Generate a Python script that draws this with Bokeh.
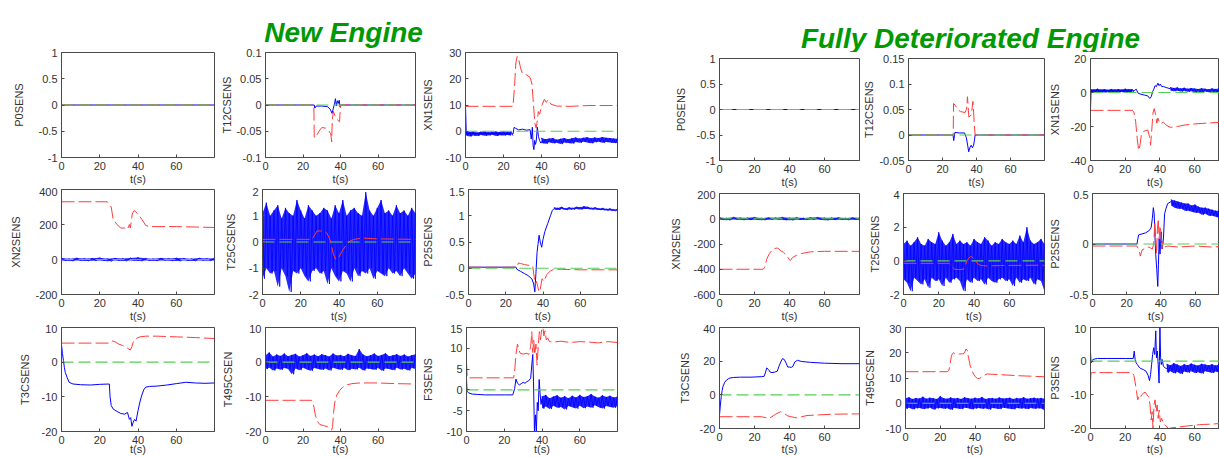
from bokeh.plotting import figure
from bokeh.models import Range1d, LinearAxis, FixedTicker, CustomJSTickFormatter, Label
from bokeh.layouts import row, column
from bokeh.embed import file_html
from bokeh.resources import INLINE

FONT = "Liberation Sans"
BLUE = "#0000ff"
RED = "#ff3c3c"
GREEN = "#55d055"
AXC = "#4a4a4a"
TXT = "#333333"
TITLE_GREEN = "#009900"

# ---------------- common data ----------------
x_ticks = [0, 20, 40, 60]
zero_t = [0, 80]
zero_y = [0, 0]
g0_80_2 = [0, 2, 4, 6, 8, 10, 12, 14, 16, 18, 20, 22, 24, 26, 28, 30, 32, 34, 36, 38, 40,
           42, 44, 46, 48, 50, 52, 54, 56, 58, 60, 62, 64, 66, 68, 70, 72, 74, 76, 78, 80]
g0_80_4 = [0, 4, 8, 12, 16, 20, 24, 28, 32, 36, 40, 44, 48, 52, 56, 60, 64, 68, 72, 76, 80]
g0_24_2 = [0, 2, 4, 6, 8, 10, 12, 14, 16, 18, 20, 22, 24]
g40_80_2 = [40, 42, 44, 46, 48, 50, 52, 54, 56, 58, 60, 62, 64, 66, 68, 70, 72, 74, 76, 78, 80]
g46_80_2 = [46, 48, 50, 52, 54, 56, 58, 60, 62, 64, 66, 68, 70, 72, 74, 76, 78, 80]
g44_80_2 = [44, 46, 48, 50, 52, 54, 56, 58, 60, 62, 64, 66, 68, 70, 72, 74, 76, 78, 80]

# ---------------- New Engine ----------------
new_p0_blue_t = [0, 80]
new_p0_blue_y = [0, 0]
new_p0_red_t = [0, 80]
new_p0_red_y = [0, 0]

new_t12_blue_t = [0, 26, 26.3, 27, 30, 33, 34.5, 35.5, 36.2, 36.8, 37.3, 37.8, 38.3, 38.8, 39.3, 39.8, 40, 80]
new_t12_blue_y = [0, 0, -0.006, -0.002, -0.002, -0.003, -0.008, -0.016, -0.006, 0.002, 0.012, -0.002, 0.008, 0.003, 0.009, -0.004, 0, 0]
new_t12_red_t = [0, 25.8, 26, 27, 28.5, 30, 32, 33.5, 34.8, 35.3, 35.6, 36.2, 37, 38, 39.5, 40, 80]
new_t12_red_y = [0, 0, -0.062, -0.06, -0.05, -0.043, -0.044, -0.048, -0.055, -0.07, -0.03, -0.012, -0.02, -0.027, -0.032, 0, 0]

new_xn1_blue_t = [0, 0.4, 24, 25, 25.6, 26.2, 28, 30, 32, 34, 34.6, 35.2, 35.6, 36.0, 36.4, 36.8, 37.2, 37.8, 38.4, 39.0, 39.6, 40.4]
new_xn1_blue_y = [9.5, -0.8, -1.0, -1.0, 1.5, 1.2, 0.5, 0.8, 0.4, 0.6, -3.0, 1.5, -5.5, -7.0, -3.5, -5.0, -4.0, 1.5, -2.0, -3.5, -4.5, -3.8]
new_xn1_bandA_hi = [-0.2, -0.3, -0.1, -0.5, -0.2, 0.0, -0.4, -0.2, -0.1, -0.3, 0.0, -0.2, -0.1]
new_xn1_bandA_lo = [-1.5, -2.0, -1.6, -1.8, -1.4, -1.7, -1.6, -1.3, -1.8, -1.5, -1.6, -1.4, -1.7]
new_xn1_bandB_hi = [-2.5, -3.0, -2.8, -2.6, -3.2, -2.9, -2.6, -3.0, -2.7, -2.4, -2.8, -2.5, -2.3, -2.7, -2.4, -2.6, -2.2, -2.5, -2.6, -2.8, -2.9]
new_xn1_bandB_lo = [-4.5, -4.8, -4.2, -4.6, -4.4, -4.9, -4.3, -4.5, -4.7, -4.1, -4.4, -4.0, -4.3, -4.6, -4.2, -4.0, -4.4, -4.1, -4.3, -4.5, -4.4]
new_xn1_red_t = [0, 25, 25.8, 26.5, 27.2, 28, 29, 30, 32, 34, 35, 35.8, 36.5, 37.2, 37.8, 38.3, 39, 40, 41.5, 42.5,
                 43.5, 45, 48, 55, 65, 80]
new_xn1_red_y = [9.5, 9.5, 17, 26, 28.5, 27.5, 24, 22, 21.5, 20.5, 18, 10, 3, 1.2, 4, 7.5, 6.5, 9.5, 12.2, 11,
                 12, 10.3, 9.6, 9.5, 9.8, 9.8]

new_xn2_band_hi = [8, 5, 9, 6, 7, 10, 5, 8, 6, 9, 12, 7, 5, 8, 6, 9, 7, 5, 8, 6, 7]
new_xn2_band_lo = [-6, -9, -5, -8, -7, -5, -10, -6, -8, -5, -9, -6, -8, -5, -7, -9, -6, -8, -5, -7, -6]
new_xn2_red_t = [0, 24, 26, 27, 29, 31, 33, 34.5, 35.5, 36, 37, 38, 40, 42, 44, 46, 60, 80]
new_xn2_red_y = [330, 330, 300, 230, 200, 180, 180, 172, 200, 180, 260, 280, 260, 230, 195, 188, 188, 183]

new_t25_band_hi = [1.1, 1.5, 1.0, 1.2, 1.4, 0.9, 1.3, 1.1, 1.0, 1.6, 1.2, 0.9, 1.4, 1.2, 1.0, 1.1, 1.3, 1.2, 0.9, 1.4,
                   1.1, 1.6, 1.0, 1.2, 1.3, 1.1, 1.0, 1.9, 1.2, 1.0, 1.3, 1.6, 1.1, 1.2, 1.0, 1.4, 1.1, 1.2, 1.0, 1.3, 1.1]
new_t25_band_lo = [-1.4, -1.0, -1.2, -1.1, -1.7, -1.0, -1.3, -1.9, -1.1, -1.2, -1.0, -1.3, -1.5, -1.1, -1.0, -1.2, -1.1, -1.6, -1.0, -1.3,
                   -1.5, -1.1, -1.2, -1.5, -1.0, -1.3, -1.1, -1.2, -1.0, -1.4, -1.1, -1.2, -1.3, -1.0, -1.2, -1.1, -1.3, -1.0, -1.2, -1.4, -1.2]
new_t25_red_t = [0, 26, 27.5, 28.5, 32, 33.5, 35, 36, 37, 38.2, 39.5, 40.5, 42, 44, 46, 48, 52, 60, 80]
new_t25_red_y = [0.1, 0.1, 0.3, 0.42, 0.42, 0.35, 0.15, -0.1, -0.45, -0.65, -0.65, -0.5, -0.3, -0.1, 0.05, 0.1, 0.15, 0.12, 0.1]

new_p25_blue_t = [0, 25.5, 26, 28, 30, 32, 34, 35, 35.6, 36.2, 36.8, 37.3, 37.9, 38.5, 39.3, 40, 41, 42.5, 44, 45, 46]
new_p25_blue_y = [0.02, 0.02, -0.02, -0.06, -0.1, -0.14, -0.2, -0.3, -0.45, -0.1, 0.3, 0.45, 0.63, 0.5, 0.4, 0.55, 0.7, 0.85, 1.0, 1.1, 1.14]
new_p25_band_hi = [1.16, 1.15, 1.17, 1.14, 1.16, 1.15, 1.17, 1.16, 1.18, 1.17, 1.15, 1.16, 1.14, 1.15, 1.13, 1.14, 1.12, 1.13]
new_p25_band_lo = [1.12, 1.11, 1.13, 1.11, 1.12, 1.12, 1.13, 1.12, 1.13, 1.13, 1.12, 1.12, 1.11, 1.11, 1.10, 1.10, 1.09, 1.10]
new_p25_red_t = [0, 26, 26.8, 28, 30, 33, 34.5, 35.2, 35.8, 36.5, 37.2, 37.8, 38.5, 39.5, 40.5, 42, 44, 46, 50, 60, 80]
new_p25_red_y = [0.02, 0.02, 0.1, 0.09, 0.07, 0.05, 0.04, -0.15, -0.3, -0.25, -0.35, -0.45, -0.4, -0.2, -0.25, -0.12, -0.05, -0.02, -0.02, -0.03, -0.03]

new_t3_blue_t = [0, 0.5, 1, 1.5, 2, 3, 4, 6, 10, 15, 20, 25, 25.4, 26, 27, 29, 31, 33, 34.5, 35.5,
                 36.2, 36.8, 37.4, 38.2, 39, 40, 41, 42, 43, 44, 46, 50, 55, 60, 65, 70, 75, 80]
new_t3_blue_y = [5, 2.5, 0.5, -1.5, -3, -4.5, -5.8, -6.3, -6.5, -6.6, -6.4, -6.3, -10, -12.5, -13.5, -14.2, -14.8, -15, -14.5, -16.5,
                 -16, -18.5, -17.5, -16.5, -17, -14, -11.5, -9.5, -8, -7.2, -7, -6.9, -6.6, -6.2, -5.8, -6, -6.1, -6]
new_t3_red_t = [0, 25, 26.5, 27.5, 30, 32, 34, 36, 36.8, 37.5, 39, 41, 44, 50, 60, 70, 80]
new_t3_red_y = [5.5, 5.5, 6.1, 6.0, 5.2, 4.8, 4.2, 3.5, 4.5, 5.8, 6.8, 7.3, 7.5, 7.5, 7.3, 7.1, 6.8]

new_t495_band_hi = [2.0, 2.8, 1.6, 2.2, 1.8, 2.5, 1.7, 2.1, 2.4, 1.6, 2.0, 2.6, 1.8, 2.2, 1.7, 2.3, 2.0, 1.6, 2.5, 1.9,
                    2.1, 1.7, 2.4, 2.0, 1.8, 3.8, 2.2, 1.7, 2.0, 2.5, 1.8, 2.1, 2.6, 1.7, 2.0, 2.3, 1.8, 2.2, 1.6, 2.0, 2.3]
new_t495_band_lo = [-2.0, -1.6, -2.4, -1.8, -2.2, -1.7, -2.0, -3.5, -1.8, -2.3, -1.6, -2.1, -2.5, -1.7, -2.0, -2.2, -1.8, -2.4, -1.6, -2.0,
                    -2.2, -1.7, -2.3, -1.9, -2.1, -1.6, -2.4, -1.8, -2.0, -2.2, -1.7, -2.5, -1.8, -2.0, -2.3, -1.6, -2.1, -1.9, -2.4, -1.7, -2.0]
new_t495_red_t = [0, 24.5, 25.5, 26.5, 27.5, 29, 31, 33, 34.5, 35.3, 35.8, 36.3, 37, 38, 39.5, 41, 43, 46, 50, 60, 70, 80]
new_t495_red_y = [-11, -11, -12, -15, -17, -18, -18.3, -18.6, -19.3, -19.6, -18.5, -14.5, -11.5, -9.5, -8.2, -7.3, -6.6, -6.2, -6.0, -6.0, -6.2, -6.3]

new_f3_blue_t = [0, 0.3, 1, 3, 6, 10, 15, 20, 24.5, 25.5, 26.2, 27, 28, 29, 30, 31, 32, 33, 34, 34.6,
                 35.1, 35.5, 36, 36.5, 37, 37.5, 38, 38.5, 39, 39.5, 40]
new_f3_blue_y = [2.5, -0.3, -0.7, -1, -1.1, -1.2, -1.2, -1.2, -1.2, 0.3, 2.6, 1.6, 1.2, 1.5, 1.8, 1.6, 2.0, 2.2, 2.8, 6,
                 8.5, 2, -10, -6, -10, -3, -5, 2.5, -1, -3.5, -2]
new_f3_band_hi = [-1.5, -1.2, -2.0, -1.6, -1.3, -1.9, -1.5, -2.0, -1.4, -1.8, -1.2, -1.7, -1.5, -1.0, -1.6, -1.9, -1.3, -1.7, -1.4, -1.8, -1.6]
new_f3_band_lo = [-4.5, -4.0, -4.6, -3.8, -4.3, -4.1, -4.7, -3.9, -4.2, -4.5, -3.8, -4.4, -4.0, -4.3, -3.7, -4.2, -4.5, -3.9, -4.1, -4.3, -3.8]
new_f3_red_t = [0, 0.4, 1, 25, 25.6, 26.2, 27, 27.8, 28.5, 30, 32, 33, 34, 34.6, 35.1, 35.6, 36.2, 36.8, 37.4, 38,
                38.6, 39.2, 39.8, 40.5, 41, 41.6, 42.3, 43, 44, 46, 50, 55, 60, 65, 70, 75, 80]
new_f3_red_y = [6.5, 3, 2.9, 2.9, 5, 8.5, 11, 9.5, 8.8, 8.6, 8.8, 8.5, 10.5, 14, 9, 12, 8.5, 11, 6, 10.5,
                14, 12, 14.5, 15, 13, 14.2, 12, 12.5, 11.6, 11.5, 11.7, 11.4, 11.6, 11.5, 11.3, 11.6, 11.4]

# ---------------- Fully Deteriorated Engine ----------------
old_p0_blue_t = [0, 80]
old_p0_blue_y = [0, 0]
old_p0_red_t = [0, 80]
old_p0_red_y = [0, 0]

old_t12_blue_t = [0, 26.2, 26.6, 27.3, 30, 33, 34, 34.8, 35.4, 36.2, 36.9, 37.6, 38.3, 38.8, 39.2, 80]
old_t12_blue_y = [0, 0, -0.011, 0.005, 0.004, 0.004, -0.005, -0.02, -0.033, -0.024, -0.02, -0.025, -0.02, -0.01, 0, 0]
old_t12_red_t = [0, 26.3, 26.5, 27.5, 29, 30.5, 32, 33.2, 34.1, 34.7, 35.1, 35.5, 36.2, 37, 37.9, 38.3, 38.7, 39.2, 80]
old_t12_red_y = [0, 0, 0.062, 0.058, 0.05, 0.046, 0.045, 0.044, 0.05, 0.075, 0.055, 0.035, 0.037, 0.04, 0.066, 0.045, 0.02, 0, 0]

old_xn1_blue_t = [0, 0.3, 24, 25.5, 26.3, 27.5, 29, 31, 33, 34.2, 35, 35.8, 36.5, 37.2, 38, 38.8, 39.5, 40.2, 41, 42, 44, 46]
old_xn1_blue_y = [-10.5, 1, 1, 1.2, 2, -0.5, -1, -1.5, -2, -3.5, -2.5, 0.5, 2, 4, 3.5, 5.5, 4, 5, 3.5, 3.5, 2.8, 2.2]
old_xn1_bandA_hi = [2.0, 1.8, 2.2, 1.7, 2.0, 1.6, 2.1, 1.8, 2.0, 1.7, 2.2, 1.9, 2.0]
old_xn1_bandA_lo = [0.0, 0.3, -0.2, 0.2, 0.0, 0.4, -0.1, 0.2, 0.1, 0.3, -0.1, 0.2, 0.0]
old_xn1_bandB_hi = [3.2, 2.6, 3.0, 2.4, 2.8, 2.2, 2.6, 2.3, 2.0, 2.5, 2.2, 1.9, 2.4, 2.1, 2.3, 1.8, 2.2, 2.0]
old_xn1_bandB_lo = [1.2, 0.8, 1.0, 0.6, 0.9, 0.4, 0.7, 0.3, 0.5, 0.2, 0.6, 0.1, 0.4, 0.0, 0.3, 0.2, 0.1, 0.3]
old_xn1_red_t = [0, 24, 25, 26, 27, 27.8, 28.5, 29.3, 30.5, 31.5, 33, 34, 34.6, 35.3, 36, 36.7, 37.5, 38.2, 38.8, 39.5,
                 40.2, 41, 42, 44, 46, 50, 55, 60, 70, 80]
old_xn1_red_y = [-10.5, -10.5, -11.5, -17, -28, -34, -31, -25, -23, -22.5, -22, -26, -31, -22, -12, -9.5, -13, -18, -15, -17,
                 -16.5, -18, -17.5, -19.5, -20.5, -20, -19, -18.5, -17.8, -17.3]

old_xn2_band_hi = [10, 6, 12, 8, 7, 11, 6, 9, 8, 12, 7, 10, 6, 9, 11, 7, 8, 10, 6, 9, 8]
old_xn2_band_lo = [-8, -12, -6, -10, -9, -7, -11, -8, -6, -10, -12, -7, -9, -8, -6, -11, -9, -7, -10, -8, -9]
old_xn2_red_t = [0, 25, 25.8, 27, 28.5, 30, 31.5, 33, 34, 35, 36.5, 38, 39, 40, 40.5, 41.5, 42.5, 44, 47, 52, 60, 70, 80]
old_xn2_red_y = [-400, -400, -385, -320, -275, -250, -235, -232, -240, -255, -265, -285, -305, -325, -330, -310, -300, -290, -275, -262, -258, -258, -258]

old_t25_band_hi = [1.0, 1.2, 0.9, 1.1, 1.4, 1.0, 0.9, 1.3, 1.1, 1.0, 1.7, 1.2, 0.9, 1.1, 1.6, 1.0, 1.2, 1.0, 1.1, 0.9,
                   1.3, 1.1, 1.0, 1.4, 1.2, 0.9, 1.1, 1.0, 1.3, 1.1, 1.0, 1.2, 1.0, 1.5, 1.1, 2.0, 1.2, 1.0, 1.1, 1.3, 1.0]
old_t25_band_lo = [-1.1, -1.3, -1.8, -1.0, -1.2, -1.4, -1.1, -1.6, -1.0, -1.2, -1.1, -1.5, -1.0, -1.3, -1.1, -1.0, -1.2, -1.8, -1.1, -1.3,
                   -1.0, -1.2, -1.1, -1.4, -1.0, -1.2, -1.3, -1.1, -1.0, -1.2, -1.1, -1.5, -1.0, -1.3, -1.1, -1.2, -1.0, -1.4, -1.1, -1.2, -1.8]
old_t25_red_t = [0, 26, 27, 29, 31, 34, 35, 36, 37, 38, 39, 40, 41, 42.5, 44, 47, 55, 65, 80]
old_t25_red_y = [-0.15, -0.15, -0.3, -0.5, -0.52, -0.5, -0.3, 0, 0.15, 0.25, 0.22, 0.12, -0.05, -0.2, -0.28, -0.3, -0.28, -0.27, -0.26]

old_p25_blue_t = [0, 26, 27, 29, 31, 33, 34.3, 35, 35.6, 36.1, 36.5, 37, 37.6, 38.2, 38.6, 39, 39.5, 40.2, 40.8, 41.5,
                  42.2, 43, 44, 46]
old_p25_blue_y = [0, 0, 0.09, 0.1, 0.11, 0.13, 0.16, 0.25, 0.36, 0.3, 0.1, -0.1, -0.25, -0.42, -0.2, 0.05, -0.1, 0.12, -0.05, 0.05,
                  0.3, 0.35, 0.4, 0.42]
old_p25_band_hi = [0.44, 0.43, 0.42, 0.41, 0.40, 0.40, 0.38, 0.39, 0.37, 0.36, 0.36, 0.35, 0.34, 0.33, 0.33, 0.32, 0.31, 0.31]
old_p25_band_lo = [0.38, 0.36, 0.35, 0.35, 0.33, 0.33, 0.32, 0.31, 0.31, 0.29, 0.30, 0.28, 0.28, 0.27, 0.26, 0.26, 0.25, 0.26]
old_p25_red_t = [0, 26, 27, 28, 29, 31, 33, 35, 35.8, 36.5, 37, 37.5, 38, 38.5, 39, 39.5, 40, 40.6, 41.2, 42,
                 44, 50, 60, 70, 80]
old_p25_red_y = [-0.02, -0.02, -0.05, -0.12, -0.06, -0.04, -0.03, -0.05, 0.0, 0.22, 0.05, -0.1, 0.15, 0.25, 0.05, 0.18, 0.12, -0.05, 0.02, -0.03,
                 -0.02, -0.03, -0.02, -0.03, -0.02]

old_t3_blue_t = [0, 0.5, 1, 1.5, 2, 3, 4, 5, 6, 8, 12, 18, 24, 25.5, 26.2, 27, 28, 29, 30, 31.5,
                 33, 34, 35, 36, 37, 38, 39, 40, 41, 42, 43, 44.5, 47, 52, 60, 70, 80]
old_t3_blue_y = [-12, -6, -1, 2.5, 5, 7.5, 8.8, 9.5, 10, 10.3, 10.5, 10.5, 10.8, 11, 13, 16, 15, 13.5, 13.2, 13.5,
                 14, 17, 19.5, 21.5, 21, 19, 16.5, 16.5, 16.3, 17, 19.5, 20.5, 19.8, 19.3, 18.8, 18.5, 18.5]
old_t3_red_t = [0, 24, 26, 28, 30, 32, 34, 35, 36, 37.5, 39, 41, 43, 45, 47, 50, 55, 65, 80]
old_t3_red_y = [-13, -13, -13.5, -14, -13, -11.5, -10.5, -10, -10.5, -11.5, -12.5, -13, -13.5, -13.8, -13, -12.3, -12, -11.5, -11.3]

old_t495_band_hi = [2.0, 2.4, 1.7, 2.1, 1.9, 2.6, 1.8, 2.2, 2.0, 1.7, 2.8, 2.0, 1.8, 2.3, 1.9, 2.1, 1.7, 2.4, 2.0, 1.8,
                    2.2, 1.9, 2.5, 1.7, 2.0, 2.1, 1.8, 2.3, 1.9, 2.0, 2.2, 1.7, 2.1, 1.9, 2.4, 1.8, 2.0, 2.2, 1.9, 2.1, 1.8]
old_t495_band_lo = [-2.2, -1.8, -2.4, -2.0, -1.9, -2.3, -2.1, -1.8, -2.5, -2.0, -1.9, -2.2, -2.0, -2.6, -1.9, -2.1, -2.3, -1.8, -2.0, -2.4,
                    -2.1, -1.9, -2.2, -2.0, -2.5, -1.9, -2.1, -2.3, -1.8, -2.0, -2.2, -2.4, -1.9, -2.1, -2.0, -2.3, -1.9, -2.2, -2.0, -2.1, -2.8]
old_t495_red_t = [0, 24, 25, 25.8, 26.5, 27.5, 29, 31, 33, 34, 34.8, 35.5, 36.3, 37.2, 38.2, 39.2, 40.2, 41.5, 42.5, 43.5,
                  45, 47, 55, 65, 80]
old_t495_red_y = [12.5, 12.5, 13, 16, 19, 20, 19.5, 19.5, 19.6, 20, 21.5, 21, 18, 15, 13, 11.5, 10.5, 9.8, 9.8, 10.2,
                  11, 11.6, 11.3, 10.9, 10.5]

old_p3_blue_t = [0, 0.3, 1, 2, 4, 10, 20, 24.6, 25.2, 25.7, 26.3, 27, 28, 29, 30.5, 32, 33.2, 34, 34.6, 35.2,
                 35.8, 36.4, 37, 37.6, 38, 38.5, 39, 39.5, 40, 40.4, 40.8, 41.3, 42, 43, 44]
old_p3_blue_y = [3, -0.5, 0.3, 0.6, 0.8, 0.8, 0.8, 0.8, 3, 0.5, -0.5, -1, -1.8, -2.2, -2.5, -3, -4.2, -5.8, -4, -1,
                 2, 4, 2, 9, 1, 3, -1, -6.5, 10, 1, -1, 0.5, -1.5, -2, -2.2]
old_p3_band_hi = [-0.8, -1.2, -0.6, -1.0, -1.4, -0.9, -1.2, -0.7, -1.1, -1.3, -0.8, -1.0, -1.2, -0.9, -1.3, -1.0, -1.1, -0.8, -1.2]
old_p3_band_lo = [-3.4, -3.0, -3.6, -3.2, -3.8, -3.1, -3.4, -3.0, -3.5, -3.3, -3.7, -3.0, -3.2, -3.5, -3.1, -3.3, -3.0, -3.4, -3.2]
old_p3_red_t = [0, 0.3, 1, 24, 25, 25.8, 26.5, 27.2, 27.8, 28.5, 29.5, 30.5, 31.5, 32.5, 33.5, 34.3, 35, 35.5, 36, 36.6,
                37.2, 37.8, 38.4, 39, 39.6, 40.2, 41, 42, 43, 44, 45, 47, 50, 55, 60, 65, 70, 75, 80]
old_p3_red_y = [-6, -3.5, -3.4, -3.4, -4.2, -6.5, -9, -11.5, -10.5, -11, -10, -9.5, -9.2, -10, -10.5, -13, -17.5, -15, -20, -13,
                -11.5, -15, -13, -17, -14.5, -18, -17, -18.5, -19, -19.5, -20, -19.8, -19.6, -19.3, -19, -18.8, -18.7, -18.5, -18.4]

# ---------------- helpers ----------------
FMT = "return String(Math.round(tick * 1000000) / 1000000);"


def zigzag(t, hi, lo):
    half = (t[1] - t[0]) / 2.0
    xs, ys = [], []
    for ti, h, l in zip(t, hi, lo):
        xs += [ti, ti + half]
        ys += [h, l]
    return xs, ys


def make_panel(w, h, bl, br, bt, bb, xend, yr, yticks, ylabel, ystand, xstand):
    p = figure(width=w, height=h, x_range=Range1d(0, xend), y_range=Range1d(yr[0], yr[1]),
               x_axis_type=None, y_axis_type=None, output_backend="svg", toolbar_location=None,
               min_border_left=bl, min_border_right=br, min_border_top=bt, min_border_bottom=bb)
    p.outline_line_color = AXC
    p.outline_line_width = 1
    for side, ticks, lab, stand in (("below", x_ticks, "t(s)", xstand), ("left", yticks, ylabel, ystand)):
        ax = LinearAxis(ticker=FixedTicker(ticks=ticks), formatter=CustomJSTickFormatter(code=FMT))
        ax.axis_line_color = AXC
        ax.major_tick_line_color = AXC
        ax.major_tick_in = 3
        ax.major_tick_out = 0
        ax.minor_tick_line_color = None
        ax.major_label_text_font = FONT
        ax.major_label_text_font_size = "11px"
        ax.major_label_text_color = TXT
        ax.major_label_standoff = 4
        ax.axis_label = lab
        ax.axis_label_text_font = FONT
        ax.axis_label_text_font_size = "11px"
        ax.axis_label_text_font_style = "normal"
        ax.axis_label_text_color = TXT
        ax.axis_label_standoff = stand
        p.add_layout(ax, side)
    return p


def draw(p, blue=(), bands=(), red=None):
    for t, hi, lo in bands:
        p.varea(x=t, y1=lo, y2=hi, fill_color=BLUE, fill_alpha=0.85)
        xs, ys = zigzag(t, hi, lo)
        p.line(xs, ys, line_color=BLUE, line_width=0.8, line_alpha=1.0)
    for t, y in blue:
        p.line(t, y, line_color=BLUE, line_width=1)
    if red is not None:
        p.line(red[0], red[1], line_color=RED, line_width=1, line_alpha=1.0, line_dash="13 4")
    p.line(zero_t, zero_y, line_color=GREEN, line_width=1.2, line_alpha=1.0, line_dash="12 5")


def header(w, h, x, y, text):
    f = figure(width=w, height=h, x_range=Range1d(0, 1), y_range=Range1d(0, 1), x_axis_type=None,
               y_axis_type=None, output_backend="svg", toolbar_location=None,
               min_border_left=0, min_border_right=0, min_border_top=0, min_border_bottom=0)
    f.outline_line_color = None
    f.add_layout(Label(x=x, y=y, x_units="screen", y_units="screen", text=text,
                       text_align="center", text_baseline="alphabetic", text_font=FONT,
                       text_font_size="28px", text_font_style="bold italic", text_color=TITLE_GREEN))
    return f


# ---------------- left grid (New Engine) ----------------
LW = [218, 200, 204]
LBL = [61, 44, 46]
LBR = [4, 3, 5]
LH = [139, 137, 133]
LBT = [4, 2, 3]
LBB = [30, 30, 26]
LXS = [0, 0, -4]

new_specs = [
    [("P0SENS", (-1, 1), [-1, -0.5, 0, 0.5, 1], 11),
     ("T12CSENS", (-0.1, 0.1), [-0.1, -0.05, 0, 0.05, 0.1], 0),
     ("XN1SENS", (-10, 30), [-10, 0, 10, 20, 30], 9)],
    [("XN2SENS", (-200, 400), [-200, 0, 200, 400], 10),
     ("T25CSENS", (-2, 2), [-2, -1, 0, 1, 2], 9),
     ("P25SENS", (-0.5, 1.5), [-0.5, 0, 0.5, 1, 1.5], 9)],
    [("T3CSENS", (-20, 10), [-20, -10, 0, 10], 8),
     ("T495CSEN", (-20, 10), [-20, -10, 0, 10], 9),
     ("F3SENS", (-10, 15), [-10, -5, 0, 5, 10, 15], 10)],
]
new_data = [
    [dict(blue=[(new_p0_blue_t, new_p0_blue_y)], red=(new_p0_red_t, new_p0_red_y)),
     dict(blue=[(new_t12_blue_t, new_t12_blue_y)], red=(new_t12_red_t, new_t12_red_y)),
     dict(blue=[(new_xn1_blue_t, new_xn1_blue_y)],
          bands=[(g0_24_2, new_xn1_bandA_hi, new_xn1_bandA_lo), (g40_80_2, new_xn1_bandB_hi, new_xn1_bandB_lo)],
          red=(new_xn1_red_t, new_xn1_red_y))],
    [dict(bands=[(g0_80_4, new_xn2_band_hi, new_xn2_band_lo)], red=(new_xn2_red_t, new_xn2_red_y)),
     dict(bands=[(g0_80_2, new_t25_band_hi, new_t25_band_lo)], red=(new_t25_red_t, new_t25_red_y)),
     dict(blue=[(new_p25_blue_t, new_p25_blue_y)], bands=[(g46_80_2, new_p25_band_hi, new_p25_band_lo)],
          red=(new_p25_red_t, new_p25_red_y))],
    [dict(blue=[(new_t3_blue_t, new_t3_blue_y)], red=(new_t3_red_t, new_t3_red_y)),
     dict(bands=[(g0_80_2, new_t495_band_hi, new_t495_band_lo)], red=(new_t495_red_t, new_t495_red_y)),
     dict(blue=[(new_f3_blue_t, new_f3_blue_y)], bands=[(g40_80_2, new_f3_band_hi, new_f3_band_lo)],
          red=(new_f3_red_t, new_f3_red_y))],
]

left_rows = []
for r in range(3):
    figs = []
    for c in range(3):
        name, yr, yt, ys = new_specs[r][c]
        p = make_panel(LW[c], LH[r], LBL[c], LBR[c], LBT[r], LBB[r], 80, yr, yt, name, ys, LXS[r])
        draw(p, **new_data[r][c])
        figs.append(p)
    left_rows.append(row(*figs))

hl = header(622, 48, 343, 16.5, "New Engine")

# ---------------- right grid (Fully Deteriorated Engine) ----------------
RW = [238, 185, 174]
RBL = [97, 43, 43]
RBR = [1, 1, 0]
RH = [138, 134, 133]
RBT = [6, 3, 3]
RBB = [30, 30, 29]
RXS = [0, 0, -1]
RFW = 141

old_specs = [
    [("P0SENS", (-1, 1), [-1, -0.5, 0, 0.5, 1], 7),
     ("T12CSENS", (-0.05, 0.15), [-0.05, 0, 0.05, 0.1, 0.15], 1),
     ("XN1SENS", (-40, 20), [-40, -20, 0, 20], 7)],
    [("XN2SENS", (-600, 200), [-600, -400, -200, 0, 200], 8),
     ("T25CSENS", (-2, 4), [-2, 0, 2, 4], 6),
     ("P25SENS", (-0.5, 0.5), [-0.5, 0, 0.5], 6)],
    [("T3CSENS", (-20, 40), [-20, 0, 20, 40], 6),
     ("T495CSEN", (-10, 30), [-10, 0, 10, 20, 30], 7),
     ("P3SENS", (-20, 10), [-20, -10, 0, 10], 7)],
]
old_data = [
    [dict(blue=[(old_p0_blue_t, old_p0_blue_y)], red=(old_p0_red_t, old_p0_red_y)),
     dict(blue=[(old_t12_blue_t, old_t12_blue_y)], red=(old_t12_red_t, old_t12_red_y)),
     dict(blue=[(old_xn1_blue_t, old_xn1_blue_y)],
          bands=[(g0_24_2, old_xn1_bandA_hi, old_xn1_bandA_lo), (g46_80_2, old_xn1_bandB_hi, old_xn1_bandB_lo)],
          red=(old_xn1_red_t, old_xn1_red_y))],
    [dict(bands=[(g0_80_4, old_xn2_band_hi, old_xn2_band_lo)], red=(old_xn2_red_t, old_xn2_red_y)),
     dict(bands=[(g0_80_2, old_t25_band_hi, old_t25_band_lo)], red=(old_t25_red_t, old_t25_red_y)),
     dict(blue=[(old_p25_blue_t, old_p25_blue_y)], bands=[(g46_80_2, old_p25_band_hi, old_p25_band_lo)],
          red=(old_p25_red_t, old_p25_red_y))],
    [dict(blue=[(old_t3_blue_t, old_t3_blue_y)], red=(old_t3_red_t, old_t3_red_y)),
     dict(bands=[(g0_80_2, old_t495_band_hi, old_t495_band_lo)], red=(old_t495_red_t, old_t495_red_y)),
     dict(blue=[(old_p3_blue_t, old_p3_blue_y)], bands=[(g44_80_2, old_p3_band_hi, old_p3_band_lo)],
          red=(old_p3_red_t, old_p3_red_y))],
]

right_rows = []
for r in range(3):
    figs = []
    for c in range(3):
        name, yr, yt, ys = old_specs[r][c]
        fw = RW[c] - RBL[c] - RBR[c]
        xend = 80 if c < 2 else 80.0 * fw / RFW
        p = make_panel(RW[c], RH[r], RBL[c], RBR[c], RBT[r], RBB[r], xend, yr, yt, name, ys, RXS[r])
        draw(p, **old_data[r][c])
        figs.append(p)
    right_rows.append(row(*figs))

hr = header(597, 52, 348, 14.5, "Fully Deteriorated Engine")

layout = row(column(hl, *left_rows), column(hr, *right_rows))

open("out.html", "w").write(file_html(layout, INLINE))
